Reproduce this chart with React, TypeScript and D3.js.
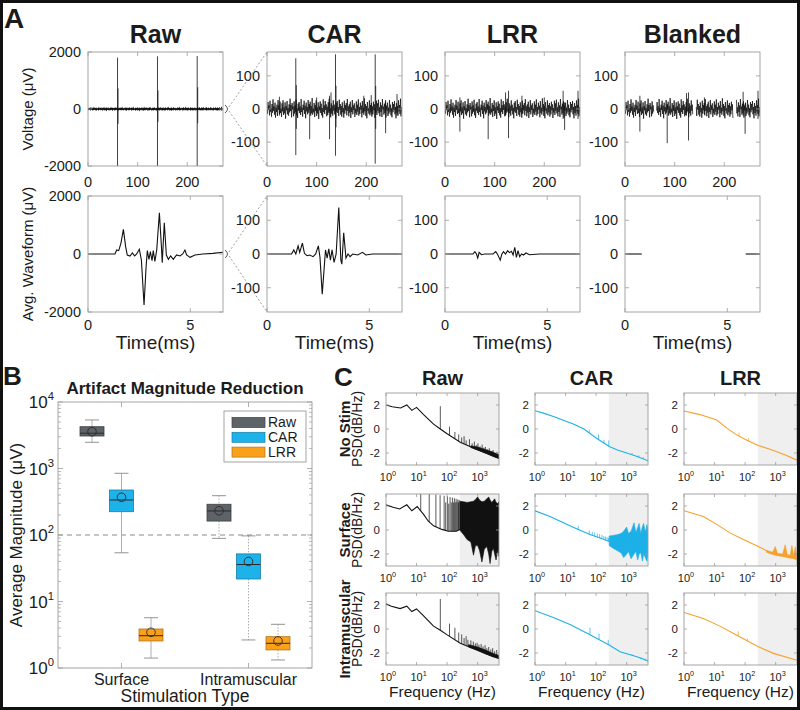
import React from "react";
import * as d3 from "d3";

type Pt = [number, number];
type Spk = [number, number, number];
type Band = [number, number, number];

const FONT = "'Liberation Sans', Arial, Helvetica, sans-serif";
const AXC = "#9c9c9c";
const TXT = "#1b1b1b";

// ---------------- Panel A data ----------------
const aTitles = ["Raw", "CAR", "LRR", "Blanked"];
const aTopXTicks = [0, 100, 200];
const aBotXTicks = [0, 5];
const aRawYTicks = [-2000, 0, 2000];
const aZoomYTicks = [-100, 0, 100];
const aRawRange = 2000;
const aZoomRange = 172;
const aTopSpan = 272;
const aBotSpan = 6.6;

const traceNoise = [
  6,-14,21,-3,11,-19,25,-8,2,-23,15,-11,29,-5,8,-17,19,-26,4,-9,13,-21,27,-2,10,-15,22,-12,1,-24,
  17,-7,26,-18,5,-13,20,-29,9,-4,24,-16,3,-20,14,-10,31,-6,12,-25,18,-1,7,-22,23,-14,11,-8,28,-19,
  2,-27,16,-5,21,-12,8,-18,30,-9,4,-23,13,-3,25,-15,10,-28,19,-7,6,-16,27,-11,15,-2,22,-20,9,-13,
  33,-17,1,-10,18,-24,12,-6,26,-21,5,-14,20,-30,8,-4,23,-12,16,-19,3,-26,29,-9,11,-15,24,-3,14,-22,
  7,-18,21,-11,31,-7,2,-25,17,-13,10,-20,26,-5,13,-16,4,-28,19,-8,24,-12,6,-21,28,-2,15,-17,9,-23,
  20,-10,3,-26,25,-14,12,-4,18,-19,30,-6,8,-22,14,-11,22,-27,5,-9,27,-16,11,-3,17,-24,1,-13,23,-18,
  13,-8,29,-20,6,-15,19,-2,10,-25,24,-12,4,-17,32,-7,15,-21,9,-28,21,-5,2,-14,26,-19,12,-10,18,-23,
  8,-16,22,-4,14,-27,3,-11,25,-18,17,-6,28,-13,5,-22,20,-9,11,-24,30,-1,7,-17,16,-12,23,-26,10,-5,
  19,-21,4,-14,27,-8,13,-19,2,-25,21,-10,15,-3,24,-16,6,-28,18,-12,9,-20,26,-7,12,-15,31,-22,5,-11
];

const rawSpikes: Spk[] = [[59.5,-2000,1800],[60.5,-520,720],[140,-2000,1850],[141,-450,650],[220,-2000,1860],[221,-500,760]];
const carSpikes: Spk[] = [[25,-20,37],[58,-139,153],[59,-60,72],[86,-91,12],[100,-10,35],[126,-91,40],[129,-15,50],[138,-141,165],[139,-55,70],[195,-10,40],[210,-15,42],[218,-165,165],[219,-60,70],[239,-73,27],[262,-20,45]];
const lrrSpikes: Spk[] = [[30,-68,35],[87,-91,12],[122,-20,50],[128,-88,55],[155,-15,40],[200,-10,35],[238,-30,55],[241,-63,20],[268,-30,55]];
const blankSpikes: Spk[] = [[30,-68,40],[85,-103,12],[124,-20,48],[128,-95,50],[160,-15,35],[238,-20,52],[242,-75,15],[268,-30,55]];
const blankGaps: Pt[] = [[58,63],[137,143.5],[218,223.5]];

const rawAvg: Pt[] = [[0,0],[1.32,0],[1.4,138],[1.5,115],[1.61,369],[1.73,851],[1.84,253],[1.92,-34],[2.05,-69],[2.17,34],[2.28,-69],[2.38,0],[2.51,161],[2.61,-207],[2.74,-1759],[2.84,-437],[2.9,115],[2.98,-184],[3.05,80],[3.13,-230],[3.19,115],[3.27,-253],[3.36,138],[3.49,1425],[3.59,253],[3.63,-299],[3.73,1080],[3.83,-34],[3.93,-184],[4.04,-69],[4.17,-184],[4.33,-34],[4.5,-69],[4.63,0],[4.74,138],[4.82,-34],[4.99,-115],[5.23,-34],[5.62,0],[6.11,20],[6.6,60]];
const carAvg: Pt[] = [[0,0],[1.2,0],[1.31,12],[1.41,0],[1.52,24],[1.6,5],[1.73,32],[1.83,2],[1.96,-5],[2.09,-3],[2.25,-8],[2.38,0],[2.51,24],[2.59,-10],[2.7,-119],[2.8,-38],[2.86,12],[2.94,-12],[3.02,15],[3.1,-18],[3.18,12],[3.28,-25],[3.38,0],[3.51,138],[3.61,-18],[3.66,-30],[3.75,63],[3.86,-12],[3.96,0],[4.06,-8],[4.19,0],[4.43,-3],[4.67,5],[4.83,-3],[5.16,0],[6.6,0]];
const lrrAvg: Pt[] = [[0,0],[1.37,0],[1.46,7],[1.54,0],[1.6,-12],[1.67,5],[1.78,-2],[1.94,0],[2.35,0],[2.48,7],[2.56,0],[2.64,-10],[2.7,-18],[2.78,0],[2.86,7],[2.96,0],[3.06,10],[3.15,4],[3.25,8],[3.33,-3],[3.41,20],[3.49,-10],[3.57,10],[3.65,-8],[3.74,0],[3.84,-3],[3.96,3],[4.13,-2],[4.61,0],[6.6,0]];
const blankAvgA: Pt[] = [[0,0],[0.82,0]];
const blankAvgB: Pt[] = [[5.9,0],[6.6,0]];

// ---------------- Panel B data ----------------
const bCategories = ["Surface", "Intramuscular"];
const bMethods = ["Raw", "CAR", "LRR"];
const bFill = ["#5e6367", "#1eb2ea", "#f9a11b"];
const bStroke = ["#3c4044", "#177ea6", "#b0731e"];
const bYTickExps = [0, 1, 2, 3, 4];
const bThreshold = 100;
// [lowWhisker, q1, median, q3, highWhisker, mean]
const bRawStats = [[2480, 3080, 3390, 4250, 5370, 3575], [89, 162, 230, 290, 390, 232]];
const bCarStats = [[54, 224, 336, 475, 847, 369], [2.64, 21.8, 36, 52, 97, 40]];
const bLrrStats = [[1.41, 2.55, 3.06, 3.86, 5.7, 3.44], [1.32, 1.87, 2.35, 2.96, 4.54, 2.55]];

// ---------------- Panel C data ----------------
const cCols = ["Raw", "CAR", "LRR"];
const cRows = ["No Stim", "Surface", "Intramuscular"];
const cColors = ["#111111", "#1bb0e8", "#f5a12c"];
const cXTickExps = [0, 1, 2, 3];
const cYTicks = [-2, 0, 2];
const cFreqDomain = [1, 5000];
const cShadeStart = 260;

const rawNoBase: Pt[] = [[1,2.0],[1.6,1.85],[3,1.75],[4.8,2.0],[7,1.55],[10,1.8],[17,1.2],[36,0.4],[60,0.0],[100,-0.4],[270,-1.1],[940,-1.7],[2000,-2.05],[5000,-2.45]];
const rawNoSpikes: Pt[] = [[60,1.9],[120,0.2],[180,-0.25],[240,-0.45],[300,-0.7],[360,-0.6],[420,-0.95],[540,-0.85],[660,-1.2],[780,-1.05],[900,-1.35],[1020,-1.2],[1200,-1.45],[1400,-1.3],[1600,-1.55],[1800,-1.5],[2100,-1.7],[2400,-1.6],[2800,-1.85],[3200,-1.75],[3700,-2.0],[4300,-1.9]];
const rawNoBand: Band[] = [[600,-1.55,-1.4],[1000,-1.75,-1.5],[2000,-2.05,-1.75],[3000,-2.25,-1.9],[5000,-2.45,-2.15]];

const rawSurfBase: Pt[] = [[1,2.1],[1.7,1.9],[2.8,1.75],[4.8,2.1],[7,1.6],[10.5,1.95],[17,1.3],[24,0.75],[36,0.35],[67,0.05],[110,-0.1],[200,-0.1],[260,0.05]];
const rawSurfSpikes: Pt[] = [[13.7,3.0],[26,3.0],[43,2.95],[59,2.9],[80,2.85],[90,2.3],[102,2.8],[113,2.2],[125,2.75],[137,2.3],[149,2.7],[161,2.3],[173,2.65],[185,2.3],[197,2.6],[210,2.35],[224,2.55],[236,2.3],[247,2.5]];
const rawSurfBand: Band[] = [[260,0.0,2.4],[350,-0.4,2.35],[450,-0.8,2.3],[600,-1.0,2.35],[730,-2.1,2.4],[850,-1.3,2.55],[1000,-1.3,2.75],[1150,-1.7,2.5],[1380,-2.67,2.35],[1650,-1.6,2.4],[2000,-1.38,2.6],[2300,-2.0,2.75],[2550,-2.8,2.5],[2900,-1.8,2.3],[3270,-1.52,2.45],[3600,-2.0,2.6],[4000,-2.5,2.3],[4600,-1.67,2.2],[5000,-2.2,2.35]];

const rawIntraBase: Pt[] = [[1,2.1],[1.5,1.9],[2.9,1.7],[4.8,1.9],[7,1.45],[10,1.67],[17,1.1],[36,0.24],[60,-0.1],[98,-0.47],[270,-1.18],[940,-1.75],[2000,-2.1],[5000,-2.46]];
const rawIntraSpikes: Pt[] = [[60,2.5],[120,0.45],[180,0.1],[240,-0.3],[300,-0.45],[360,-0.75],[420,-0.6],[480,-0.9],[600,-0.95],[720,-1.05],[840,-1.2],[960,-1.15],[1100,-1.3],[1300,-1.25],[1500,-1.45],[1750,-1.35],[2000,-1.6],[2300,-1.5],[2700,-1.7],[3100,-1.6],[3600,-1.85],[4200,-1.75]];
const rawIntraBand: Band[] = [[500,-1.5,-1.3],[1000,-1.78,-1.5],[2000,-2.1,-1.8],[3000,-2.3,-2.0],[5000,-2.46,-2.2]];

const carNoBase: Pt[] = [[1,1.52],[2,1.3],[4,1.05],[8,0.75],[18,0.42],[40,0.0],[100,-0.75],[270,-1.45],[500,-1.75],[1000,-2.0],[2000,-2.25],[5000,-2.65]];
const carNoSpikes: Pt[] = [[60,-0.05],[120,-0.45],[180,-0.9],[260,-0.95],[1500,-2.0],[2500,-2.2],[3500,-2.35]];
const carNoBand: Band[] = [];

const carSurfBase: Pt[] = [[1,1.6],[3.1,1.13],[8.5,0.6],[23,0.1],[63,-0.38],[150,-0.7],[268,-0.96]];
const carSurfSpikes: Pt[] = [[26,0.35],[60,-0.05],[75,-0.15],[90,-0.2],[110,-0.3],[130,-0.35],[155,-0.4],[180,-0.5],[205,-0.55],[230,-0.6],[255,-0.65]];
const carSurfBand: Band[] = [[268,-1.3,-0.5],[350,-1.5,-0.45],[480,-1.7,-0.4],[650,-1.9,-0.3],[800,-2.3,-0.1],[1000,-2.0,0.25],[1150,-1.8,-0.3],[1400,-2.4,-0.1],[1750,-2.0,0.6],[2000,-1.8,-0.2],[2300,-2.5,0.2],[2560,-2.0,0.55],[2900,-1.9,-0.3],[3300,-2.6,0.3],[3600,-2.0,0.55],[4100,-2.3,-0.2],[4600,-2.6,0.45],[5000,-2.1,0.0]];

const carIntraBase: Pt[] = [[1,1.52],[4,0.96],[14,0.38],[49,-0.33],[268,-1.33],[610,-1.9],[2170,-2.32],[5000,-2.66]];
const carIntraSpikes: Pt[] = [[63,0.1],[125,-0.38],[250,-0.9],[1500,-2.1],[3000,-2.35],[4000,-2.45]];
const carIntraBand: Band[] = [];

const lrrNoBase: Pt[] = [[1,1.5],[3.3,1.2],[11.8,0.75],[26,0.05],[50,-0.45],[114,-0.94],[270,-1.37],[850,-1.8],[2000,-2.15],[5000,-2.6]];
const lrrNoSpikes: Pt[] = [[63,-0.3],[128,-0.75]];
const lrrNoBand: Band[] = [];

const lrrSurfBase: Pt[] = [[1,1.6],[4.3,1.13],[11.8,0.47],[32,-0.24],[88,-0.8],[270,-1.37],[660,-1.88],[1800,-2.17],[5000,-2.4]];
const lrrSurfSpikes: Pt[] = [[120,-0.9]];
const lrrSurfBand: Band[] = [[500,-1.85,-1.7],[800,-2.05,-1.85],[970,-2.1,-1.37],[1150,-2.15,-1.95],[1700,-2.2,-2.0],[2050,-2.25,-1.23],[2400,-2.3,-2.05],[3000,-2.35,-2.1],[3400,-2.35,-1.3],[3900,-2.4,-2.15],[4400,-2.45,-1.4],[5000,-2.5,-2.2]];

const lrrIntraBase: Pt[] = [[1,1.38],[4.3,0.87],[15,0.24],[50,-0.47],[270,-1.47],[850,-2.03],[5000,-2.6]];
const lrrIntraSpikes: Pt[] = [[60,-0.19],[120,-0.8]];
const lrrIntraBand: Band[] = [];

const psdTable = [
  [
    { base: rawNoBase, spikes: rawNoSpikes, band: rawNoBand },
    { base: carNoBase, spikes: carNoSpikes, band: carNoBand },
    { base: lrrNoBase, spikes: lrrNoSpikes, band: lrrNoBand },
  ],
  [
    { base: rawSurfBase, spikes: rawSurfSpikes, band: rawSurfBand },
    { base: carSurfBase, spikes: carSurfSpikes, band: carSurfBand },
    { base: lrrSurfBase, spikes: lrrSurfSpikes, band: lrrSurfBand },
  ],
  [
    { base: rawIntraBase, spikes: rawIntraSpikes, band: rawIntraBand },
    { base: carIntraBase, spikes: carIntraSpikes, band: carIntraBand },
    { base: lrrIntraBase, spikes: lrrIntraSpikes, band: lrrIntraBand },
  ],
];

// ---------------- helpers ----------------
function baseAt(base: Pt[], f: number) {
  const lf = Math.log10(f);
  for (let i = 0; i < base.length - 1; i++) {
    const a = base[i], b = base[i + 1];
    if (f >= a[0] && f <= b[0]) {
      const la = Math.log10(a[0]), lb = Math.log10(b[0]);
      const t = (lf - la) / (lb - la);
      return a[1] + (b[1] - a[1]) * t;
    }
  }
  return base[base.length - 1][1];
}

function Pow({ x, y, exp, size, anchor }: { x: number; y: number; exp: number; size: number; anchor: string }) {
  return (
    <text x={x} y={y} fontSize={size} textAnchor={anchor as any} fill={TXT}>
      10<tspan dy={-size * 0.45} fontSize={size * 0.66}>{exp}</tspan>
    </text>
  );
}

function BoxTicks({ x0, x1, y0, y1, xpos, ypos, len }: { x0: number; x1: number; y0: number; y1: number; xpos: number[]; ypos: number[]; len: number }) {
  return (
    <g stroke={AXC} strokeWidth={0.8}>
      {xpos.map((x, i) => (
        <g key={"x" + i}>
          <line x1={x} x2={x} y1={y1} y2={y1 - len} />
          <line x1={x} x2={x} y1={y0} y2={y0 + len} />
        </g>
      ))}
      {ypos.map((y, i) => (
        <g key={"y" + i}>
          <line x1={x0} x2={x0 + len} y1={y} y2={y} />
          <line x1={x1} x2={x1 - len} y1={y} y2={y} />
        </g>
      ))}
    </g>
  );
}

// ---------------- Panel A ----------------
function PanelA() {
  const cols = [88, 267, 445, 625];
  const w = 135;
  const top = [52, 166];
  const bot = [196, 312];
  const spikesList = [rawSpikes, carSpikes, lrrSpikes, blankSpikes];
  const avgList: Pt[][][] = [[rawAvg], [carAvg], [lrrAvg], [blankAvgA, blankAvgB]];
  const out: any[] = [];
  cols.forEach((x0, i) => {
    const x1 = x0 + w;
    const range = i === 0 ? aRawRange : aZoomRange;
    const yt = i === 0 ? aRawYTicks : aZoomYTicks;
    const xs = d3.scaleLinear().domain([0, aTopSpan]).range([x0, x1]);
    const ys = d3.scaleLinear().domain([-range, range]).range([top[1], top[0]]);
    const pts: Pt[] = traceNoise.map((v, k) => [(k * aTopSpan) / (traceNoise.length - 1), v]);
    const gaps = i === 3 ? blankGaps : [];
    const line = d3
      .line<Pt>()
      .defined((d) => !gaps.some((g) => d[0] >= g[0] && d[0] <= g[1]))
      .x((d) => xs(d[0]))
      .y((d) => ys(d[1]));
    out.push(
      <g key={"top" + i}>
        <text x={(x0 + x1) / 2} y={43} fontSize={25} fontWeight="bold" textAnchor="middle" fill={TXT}>{aTitles[i]}</text>
        <clipPath id={"clipAt" + i}><rect x={x0} y={top[0]} width={w} height={top[1] - top[0]} /></clipPath>
        <g clipPath={`url(#clipAt${i})`}>
          <path d={line(pts) || ""} fill="none" stroke="#111" strokeWidth={i === 0 ? 1.2 : 0.75} />
          {spikesList[i].map((s, k) => (
            <line key={k} x1={xs(s[0])} x2={xs(s[0])} y1={ys(s[1])} y2={ys(s[2])} stroke="#111" strokeWidth={0.8} />
          ))}
        </g>
        <rect x={x0} y={top[0]} width={w} height={top[1] - top[0]} fill="none" stroke={AXC} strokeWidth={0.9} />
        <BoxTicks x0={x0} x1={x1} y0={top[0]} y1={top[1]} xpos={aTopXTicks.map((t) => xs(t))} ypos={yt.map((t) => ys(t))} len={4} />
        {aTopXTicks.map((t) => (
          <text key={t} x={xs(t)} y={187} fontSize={14.5} textAnchor="middle" fill={TXT}>{t}</text>
        ))}
        {yt.map((t) => (
          <text key={t} x={x0 - 7} y={ys(t) + 5} fontSize={14.5} textAnchor="end" fill={TXT}>{t}</text>
        ))}
      </g>
    );
    const xb = d3.scaleLinear().domain([0, aBotSpan]).range([x0, x1]);
    const yb = d3.scaleLinear().domain([-range, range]).range([bot[1], bot[0]]);
    const lineB = d3.line<Pt>().x((d) => xb(d[0])).y((d) => yb(d[1]));
    out.push(
      <g key={"bot" + i}>
        <clipPath id={"clipAb" + i}><rect x={x0} y={bot[0]} width={w} height={bot[1] - bot[0]} /></clipPath>
        <g clipPath={`url(#clipAb${i})`}>
          {avgList[i].map((seg, k) => (
            <path key={k} d={lineB(seg) || ""} fill="none" stroke="#111" strokeWidth={1.1} />
          ))}
        </g>
        <rect x={x0} y={bot[0]} width={w} height={bot[1] - bot[0]} fill="none" stroke={AXC} strokeWidth={0.9} />
        <BoxTicks x0={x0} x1={x1} y0={bot[0]} y1={bot[1]} xpos={aBotXTicks.map((t) => xb(t))} ypos={yt.map((t) => yb(t))} len={4} />
        {aBotXTicks.map((t) => (
          <text key={t} x={xb(t)} y={330} fontSize={14.5} textAnchor="middle" fill={TXT}>{t}</text>
        ))}
        {yt.map((t) => (
          <text key={t} x={x0 - 7} y={yb(t) + 5} fontSize={14.5} textAnchor="end" fill={TXT}>{t}</text>
        ))}
        <text x={(x0 + x1) / 2} y={349} fontSize={19} textAnchor="middle" fill={TXT}>Time(ms)</text>
      </g>
    );
  });
  const conn = (yc: number, ya: number, yb2: number) => (
    <g>
      <path d={`M225,${yc - 4} Q230,${yc} 225,${yc + 4}`} fill="none" stroke="#333" strokeWidth={0.8} />
      <line x1={229} y1={yc - 2} x2={267} y2={ya} stroke="#888" strokeWidth={0.8} strokeDasharray="2,2" />
      <line x1={229} y1={yc + 2} x2={267} y2={yb2} stroke="#888" strokeWidth={0.8} strokeDasharray="2,2" />
    </g>
  );
  return (
    <g>
      <text x={4} y={28} fontSize={28} fontWeight="bold" fill={TXT}>A</text>
      {out}
      {conn(109, 52, 166)}
      {conn(254, 196, 312)}
      <text transform="translate(33,109) rotate(-90)" fontSize={15} textAnchor="middle" fill={TXT}>Voltage (μV)</text>
      <text transform="translate(33,254) rotate(-90)" fontSize={15} textAnchor="middle" fill={TXT}>Avg. Waveform (μV)</text>
    </g>
  );
}

// ---------------- Panel B ----------------
function PanelB() {
  const x0 = 58, x1 = 312, y0 = 402, y1 = 668;
  const ys = d3.scaleLog().domain([1, 1e4]).range([y1, y0]);
  const xs = d3.scalePoint<string>().domain(bCategories).range([x0, x1]).padding(0.5);
  const offs = [-29.5, 0, 29.5];
  const bw = 24;
  const stats = [bRawStats, bCarStats, bLrrStats];
  const minor: number[] = [];
  for (let e = 0; e < 4; e++) for (let m = 2; m <= 9; m++) minor.push(m * Math.pow(10, e));
  return (
    <g>
      <text x={3} y={385} fontSize={26} fontWeight="bold" fill={TXT}>B</text>
      <text x={185} y={394} fontSize={17} fontWeight="bold" textAnchor="middle" fill={TXT}>Artifact Magnitude Reduction</text>
      <line x1={x0} x2={x1} y1={ys(bThreshold)} y2={ys(bThreshold)} stroke="#8a8a8a" strokeWidth={1} strokeDasharray="5,4" />
      {bCategories.map((c, ci) =>
        bMethods.map((m, mi) => {
          const [lo, q1, med, q3, hi, mean] = stats[mi][ci];
          const cx = (xs(c) as number) + offs[mi];
          const dash = ci === 1 ? "1.5,1.5" : undefined;
          return (
            <g key={c + m}>
              <line x1={cx} x2={cx} y1={ys(hi)} y2={ys(q3)} stroke="#a5a5a5" strokeWidth={0.9} strokeDasharray={dash} />
              <line x1={cx} x2={cx} y1={ys(q1)} y2={ys(lo)} stroke="#a5a5a5" strokeWidth={0.9} strokeDasharray={dash} />
              <line x1={cx - 7} x2={cx + 7} y1={ys(hi)} y2={ys(hi)} stroke="#888" strokeWidth={0.9} />
              <line x1={cx - 7} x2={cx + 7} y1={ys(lo)} y2={ys(lo)} stroke="#888" strokeWidth={0.9} />
              <rect x={cx - bw / 2} y={ys(q3)} width={bw} height={ys(q1) - ys(q3)} fill={bFill[mi]} stroke={bStroke[mi]} strokeWidth={0.8} />
              <line x1={cx - bw / 2} x2={cx + bw / 2} y1={ys(med)} y2={ys(med)} stroke="#2a2a2a" strokeWidth={1} />
              <circle cx={cx} cy={ys(mean)} r={4.3} fill="none" stroke="#2a2a2a" strokeWidth={0.9} />
            </g>
          );
        })
      )}
      <rect x={x0} y={y0} width={x1 - x0} height={y1 - y0} fill="none" stroke={AXC} strokeWidth={0.9} />
      <BoxTicks x0={x0} x1={x1} y0={y0} y1={y1} xpos={bCategories.map((c) => xs(c) as number)} ypos={bYTickExps.map((e) => ys(Math.pow(10, e)))} len={5} />
      <g stroke={AXC} strokeWidth={0.7}>
        {minor.map((v) => (
          <g key={v}>
            <line x1={x0} x2={x0 + 3} y1={ys(v)} y2={ys(v)} />
            <line x1={x1} x2={x1 - 3} y1={ys(v)} y2={ys(v)} />
          </g>
        ))}
      </g>
      {bYTickExps.map((e) => (
        <Pow key={e} x={54} y={ys(Math.pow(10, e)) + 6} exp={e} size={17} anchor="end" />
      ))}
      {bCategories.map((c) => (
        <text key={c} x={xs(c) as number} y={685} fontSize={16} textAnchor="middle" fill={TXT}>{c}</text>
      ))}
      <text x={185} y={702} fontSize={17.5} textAnchor="middle" fill={TXT}>Stimulation Type</text>
      <text transform="translate(22,535) rotate(-90)" fontSize={17} textAnchor="middle" fill={TXT}>Average Magnitude (μV)</text>
      <g>
        <rect x={224} y={411} width={82} height={51} fill="#fff" stroke="#9a9a9a" strokeWidth={0.9} />
        {bMethods.map((m, i) => (
          <g key={m}>
            <rect x={232} y={417.5 + i * 14.8} width={33} height={10} fill={bFill[i]} stroke={bStroke[i]} strokeWidth={0.7} />
            <text x={268} y={427 + i * 14.8} fontSize={14} fill={TXT}>{m}</text>
          </g>
        ))}
      </g>
    </g>
  );
}

// ---------------- Panel C ----------------
function PanelC() {
  const colX = [386, 535, 684];
  const rowY = [393, 494, 593];
  const w = 113, h = 72;
  const out: any[] = [];
  rowY.forEach((y0, r) => {
    colX.forEach((x0, c) => {
      const x1 = x0 + w, y1 = y0 + h;
      const xs = d3.scaleLog().domain(cFreqDomain).range([x0, x1]);
      const ys = d3.scaleLinear().domain([-3, 3]).range([y1, y0]);
      const p = psdTable[r][c];
      const col = cColors[c];
      const line = d3.line<Pt>().x((d) => xs(d[0])).y((d) => ys(d[1]));
      const area = d3.area<Band>().x((d) => xs(d[0])).y0((d) => ys(d[1])).y1((d) => ys(d[2]));
      const id = `clipC${r}${c}`;
      out.push(
        <g key={id}>
          <rect x={xs(cShadeStart)} y={y0} width={x1 - xs(cShadeStart)} height={h} fill="#efefef" />
          <clipPath id={id}><rect x={x0} y={y0} width={w} height={h} /></clipPath>
          <g clipPath={`url(#${id})`}>
            {p.spikes.map((s, k) => (
              <line key={k} x1={xs(s[0])} x2={xs(s[0])} y1={ys(baseAt(p.base, s[0]))} y2={ys(s[1])} stroke={col} strokeWidth={0.7} />
            ))}
            {p.band.length > 0 && <path d={area(p.band) || ""} fill={col} stroke={col} strokeWidth={0.6} />}
            <path d={line(p.base) || ""} fill="none" stroke={col} strokeWidth={1.1} />
          </g>
          <rect x={x0} y={y0} width={w} height={h} fill="none" stroke={AXC} strokeWidth={0.9} />
          <BoxTicks x0={x0} x1={x1} y0={y0} y1={y1} xpos={cXTickExps.map((e) => xs(Math.pow(10, e)))} ypos={cYTicks.map((t) => ys(t))} len={3} />
          {cYTicks.map((t) => (
            <text key={t} x={x0 - 6} y={ys(t) + 4} fontSize={11.5} textAnchor="end" fill={TXT}>{t}</text>
          ))}
          {cXTickExps.map((e) => (
            <Pow key={e} x={xs(Math.pow(10, e)) + 2} y={y1 + 16} exp={e} size={11} anchor="middle" />
          ))}
        </g>
      );
    });
    out.push(
      <g key={"lab" + r}>
        <text transform={`translate(350,${y0 + h / 2}) rotate(-90)`} fontSize={15} fontWeight="bold" textAnchor="middle" fill={TXT}>{cRows[r]}</text>
        <text transform={`translate(362,${y0 + h / 2}) rotate(-90)`} fontSize={14} textAnchor="middle" fill={TXT}>PSD(dB/Hz)</text>
      </g>
    );
  });
  return (
    <g>
      <text x={334} y={386} fontSize={26} fontWeight="bold" fill={TXT}>C</text>
      {cCols.map((t, i) => (
        <text key={t} x={colX[i] + w / 2} y={385} fontSize={20} fontWeight="bold" textAnchor="middle" fill={TXT}>{t}</text>
      ))}
      {out}
      {colX.map((x0, i) => (
        <text key={i} x={x0 + w / 2} y={697} fontSize={15.5} textAnchor="middle" fill={TXT}>Frequency (Hz)</text>
      ))}
    </g>
  );
}

export default function App() {
  return (
    <svg width={800} height={710} style={{ position: "absolute", left: 0, top: 0 }} fontFamily={FONT}>
      <rect width={800} height={710} fill="#fff" />
      <PanelA />
      <PanelB />
      <PanelC />
      <rect x={1.5} y={1.5} width={797} height={707} fill="none" stroke="#111" strokeWidth={3} />
    </svg>
  );
}
